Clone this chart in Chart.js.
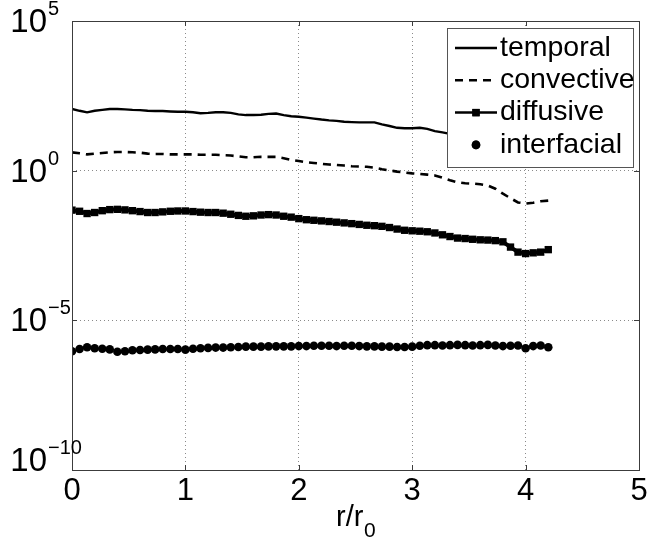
<!DOCTYPE html>
<html>
<head>
<meta charset="utf-8">
<script src="https://cdn.jsdelivr.net/npm/chart.js@4/dist/chart.umd.min.js"></script>
<style>
  body { margin: 0; background: #fff; }
  #wrap { width: 647px; height: 540px; position: relative; }
</style>
</head>
<body>
<div id="wrap"><canvas id="chart"></canvas></div>
<script>
// r/r0 sample positions
const rValues = [0, 0.067, 0.133, 0.2, 0.267, 0.333, 0.4, 0.467, 0.533, 0.6, 0.667, 0.733, 0.8, 0.867, 0.933,
  1.0, 1.067, 1.133, 1.2, 1.267, 1.333, 1.4, 1.467, 1.533, 1.6, 1.667, 1.733, 1.8, 1.867, 1.933,
  2.0, 2.067, 2.133, 2.2, 2.267, 2.333, 2.4, 2.467, 2.533, 2.6, 2.667, 2.733, 2.8, 2.867, 2.933,
  3.0, 3.067, 3.133, 3.2, 3.267, 3.333, 3.4, 3.467, 3.533, 3.6, 3.667, 3.733, 3.8, 3.867, 3.933,
  4.0, 4.067, 4.133, 4.2];

const temporal = [115, 100, 89, 100, 107, 115, 115, 112, 107, 105, 100, 98, 98, 95, 93,
  93, 89, 83, 85, 89, 89, 85, 76, 72, 72, 74, 79, 81, 72, 66,
  63, 59, 55, 51, 48, 46, 43, 42, 41, 41, 41, 35, 31, 27, 26,
  26, 27, 25, 21, 19, 17, 15, 13, 12, 11, 10, 9.1, 7.9, 6.3, 4.8,
  4.2, 4.5, 5.0, 5.6];

const convective = [4.1, 3.8, 3.5, 3.7, 3.9, 4.1, 4.2, 4.2, 4.1, 4.0, 3.7, 3.6, 3.6, 3.5, 3.5,
  3.5, 3.5, 3.4, 3.4, 3.4, 3.3, 3.2, 3.0, 2.8, 2.8, 2.9, 2.9, 2.9, 2.6, 2.3,
  2.1, 1.9, 1.8, 1.7, 1.6, 1.55, 1.48, 1.41, 1.38, 1.35, 1.26, 1.12, 1.02, 0.93, 0.87,
  0.81, 0.78, 0.74, 0.69, 0.58, 0.48, 0.41, 0.38, 0.37, 0.35, 0.32, 0.25, 0.17, 0.12, 0.087,
  0.079, 0.085, 0.095, 0.10];

const diffusive = [0.048, 0.044, 0.037, 0.040, 0.046, 0.050, 0.051, 0.049, 0.046, 0.043, 0.040, 0.040, 0.042, 0.044, 0.045,
  0.045, 0.043, 0.041, 0.040, 0.040, 0.038, 0.035, 0.032, 0.030, 0.031, 0.033, 0.034, 0.033, 0.030, 0.028,
  0.025, 0.023, 0.022, 0.021, 0.020, 0.019, 0.018, 0.017, 0.016, 0.015, 0.0145, 0.0138, 0.0126, 0.0112, 0.0102,
  0.0098, 0.0095, 0.0091, 0.0083, 0.0072, 0.0063, 0.0056, 0.0054, 0.0051, 0.0049, 0.0048, 0.0046, 0.0042, 0.0028, 0.0019,
  0.0017, 0.0018, 0.0019, 0.0023];

const interfacial = [9.3e-7, 1.10e-6, 1.26e-6, 1.17e-6, 1.12e-6, 1.07e-6, 8.9e-7, 9.3e-7, 1.0e-6, 1.02e-6, 1.05e-6, 1.07e-6, 1.10e-6, 1.10e-6, 1.10e-6,
  1.05e-6, 1.12e-6, 1.17e-6, 1.20e-6, 1.23e-6, 1.23e-6, 1.26e-6, 1.29e-6, 1.32e-6, 1.32e-6, 1.32e-6, 1.35e-6, 1.35e-6, 1.35e-6, 1.35e-6,
  1.38e-6, 1.38e-6, 1.41e-6, 1.41e-6, 1.41e-6, 1.38e-6, 1.41e-6, 1.41e-6, 1.38e-6, 1.35e-6, 1.35e-6, 1.32e-6, 1.32e-6, 1.29e-6, 1.29e-6,
  1.32e-6, 1.41e-6, 1.48e-6, 1.48e-6, 1.45e-6, 1.48e-6, 1.51e-6, 1.48e-6, 1.45e-6, 1.48e-6, 1.51e-6, 1.45e-6, 1.38e-6, 1.41e-6, 1.45e-6,
  1.17e-6, 1.38e-6, 1.45e-6, 1.26e-6];

const seriesNames = ['temporal', 'convective', 'diffusive', 'interfacial'];

// axis ticks
const xTickValues = [0, 1, 2, 3, 4, 5];
const yTickValues = [1e-10, 1e-5, 1, 1e5];
const yTickExponents = ['\u221210', '\u22125', '0', '5'];

const FONT = '"Liberation Sans", Arial, Helvetica, sans-serif';

function toPoints(values) {
  return values.map((v, i) => ({ x: rValues[i], y: v }));
}

// Draws box, inward ticks, tick labels, axis title and the legend inside the axes
const overlayPlugin = {
  id: 'overlay',
  afterDraw(chart) {
    const { ctx, chartArea: a, scales: { x, y } } = chart;
    ctx.save();

    // axes box
    ctx.strokeStyle = '#3c3c3c';
    ctx.lineWidth = 1;
    ctx.setLineDash([]);
    ctx.strokeRect(Math.round(a.left) + 0.5, Math.round(a.top) + 0.5,
      Math.round(a.right - a.left), Math.round(a.bottom - a.top));

    // inward tick marks
    ctx.beginPath();
    xTickValues.forEach(v => {
      const px = Math.round(x.getPixelForValue(v)) + 0.5;
      ctx.moveTo(px, a.bottom); ctx.lineTo(px, a.bottom - 5);
      ctx.moveTo(px, a.top); ctx.lineTo(px, a.top + 5);
    });
    yTickValues.forEach(v => {
      const py = Math.round(y.getPixelForValue(v)) + 0.5;
      ctx.moveTo(a.left, py); ctx.lineTo(a.left + 5, py);
      ctx.moveTo(a.right, py); ctx.lineTo(a.right - 5, py);
    });
    ctx.stroke();

    ctx.fillStyle = '#000';

    // x tick labels
    ctx.font = '31px ' + FONT;
    ctx.textAlign = 'center';
    ctx.textBaseline = 'alphabetic';
    xTickValues.forEach(v => {
      ctx.fillText(String(v), x.getPixelForValue(v), 500);
    });

    // y tick labels: 10 with a raised exponent
    yTickValues.forEach((v, i) => {
      const py = y.getPixelForValue(v);
      const base = i === 0 ? py + 1 : py + 11;
      ctx.font = '33px ' + FONT;
      ctx.textAlign = 'right';
      ctx.fillText('10', 47, base);
      ctx.font = '20px ' + FONT;
      ctx.textAlign = 'left';
      ctx.fillText(yTickExponents[i], 48, base - 17);
    });

    // x axis title r/r0
    ctx.font = '29px ' + FONT;
    ctx.textAlign = 'left';
    ctx.fillText('r/r', 336, 526);
    ctx.font = '21px ' + FONT;
    ctx.fillText('0', 364, 537);

    // legend box
    const lx = 447, ly = 28, lw = 186, lh = 139;
    ctx.fillStyle = '#fff';
    ctx.fillRect(lx, ly, lw, lh);
    ctx.strokeStyle = '#555';
    ctx.lineWidth = 1;
    ctx.strokeRect(lx + 0.5, ly + 0.5, lw, lh);

    chart.data.datasets.forEach((ds, i) => {
      const cy = 48 + i * 32.3;
      const x0 = 455, x1 = 497, xm = (x0 + x1) / 2;
      ctx.strokeStyle = '#000';
      ctx.fillStyle = '#000';
      if (ds.showLine !== false) {
        ctx.lineWidth = Math.min(ds.borderWidth, 2.5);
        ctx.setLineDash(ds.borderDash || []);
        ctx.beginPath();
        ctx.moveTo(x0, cy);
        ctx.lineTo(x1, cy);
        ctx.stroke();
        ctx.setLineDash([]);
      }
      if (ds.pointRadius > 0) {
        Chart.helpers.drawPoint(ctx, {
          pointStyle: ds.pointStyle, radius: ds.pointRadius, rotation: 0, borderWidth: 0
        }, xm, cy);
        ctx.fill();
      }
      ctx.fillStyle = '#000';
      ctx.font = '28.5px ' + FONT;
      ctx.textAlign = 'left';
      ctx.textBaseline = 'middle';
      ctx.fillText(ds.label, 500, cy);
      ctx.textBaseline = 'alphabetic';
    });

    ctx.restore();
  }
};

new Chart(document.getElementById('chart'), {
  type: 'line',
  data: {
    datasets: [
      {
        label: seriesNames[0],
        data: toPoints(temporal),
        borderColor: '#000',
        borderWidth: 2.4,
        pointRadius: 0,
        tension: 0
      },
      {
        label: seriesNames[1],
        data: toPoints(convective),
        borderColor: '#000',
        borderWidth: 2.6,
        borderDash: [8, 6],
        pointRadius: 0,
        tension: 0
      },
      {
        label: seriesNames[2],
        data: toPoints(diffusive),
        borderColor: '#000',
        borderWidth: 4,
        pointStyle: 'rect',
        pointRadius: 5.2,
        pointBackgroundColor: '#000',
        pointBorderWidth: 0,
        tension: 0
      },
      {
        label: seriesNames[3],
        data: toPoints(interfacial),
        showLine: false,
        borderColor: '#000',
        pointStyle: 'circle',
        pointRadius: 4.3,
        pointBackgroundColor: '#000',
        pointBorderWidth: 0
      }
    ]
  },
  options: {
    responsive: true,
    maintainAspectRatio: false,
    animation: false,
    layout: { padding: { left: 72, top: 21, right: 8, bottom: 70 } },
    plugins: {
      legend: { display: false },
      tooltip: { enabled: false }
    },
    scales: {
      x: {
        type: 'linear',
        min: 0,
        max: 5,
        afterBuildTicks: (scale) => { scale.ticks = xTickValues.map(v => ({ value: v })); },
        ticks: { display: false },
        grid: { color: '#8a8a8a', lineWidth: 1, drawTicks: false },
        border: { display: false, dash: [1, 3] }
      },
      y: {
        type: 'logarithmic',
        min: 1e-10,
        max: 1e5,
        afterBuildTicks: (scale) => { scale.ticks = yTickValues.map(v => ({ value: v })); },
        ticks: { display: false },
        grid: { color: '#8a8a8a', lineWidth: 1, drawTicks: false },
        border: { display: false, dash: [1, 3] }
      }
    }
  },
  plugins: [overlayPlugin]
});
</script>
</body>
</html>
